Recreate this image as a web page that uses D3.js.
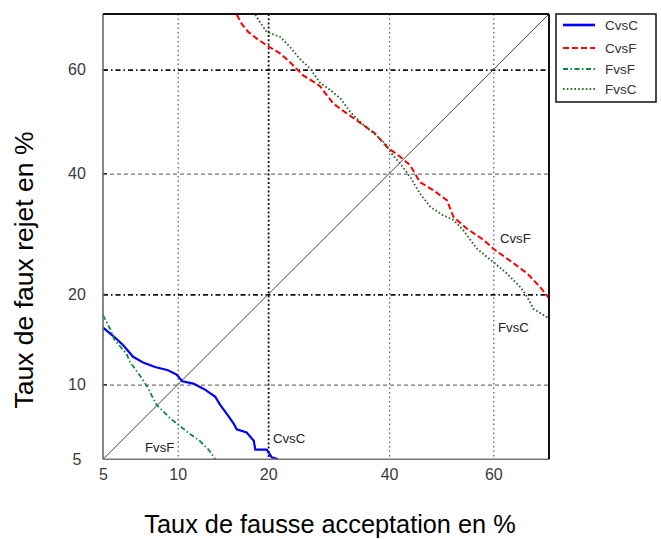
<!DOCTYPE html>
<html>
<head>
<meta charset="utf-8">
<script src="https://cdn.jsdelivr.net/npm/d3@7"></script>
<style>
  html, body { margin: 0; padding: 0; background: #fff; }
  svg { display: block; font-family: "Liberation Sans", Arial, Helvetica, sans-serif; }
</style>
</head>
<body>
<svg id="chart" width="661" height="539"></svg>
<script>
// Taux d'erreur en % (fausse acceptation / faux rejet)
const tickValues = [5, 10, 20, 40, 60];
const axisDomain = [5, 70];

const cvscFA = [5.0, 5.6, 6.1, 6.7, 7.4, 8.2, 9.2, 9.9, 10.4, 11.4, 12.5, 13.6, 14.1, 14.9, 15.6, 16.0, 17.2, 18.1, 18.3, 19.8, 20.5, 21.4];
const cvscFR = [15.8, 14.7, 13.8, 12.6, 12.0, 11.6, 11.3, 10.9, 10.3, 10.1, 9.6, 9.0, 8.4, 7.7, 7.1, 6.7, 6.5, 6.0, 5.5, 5.5, 5.1, 5.0];

const cvsfFA = [16.0, 16.6, 17.4, 18.5, 19.8, 21.7, 23.1, 25.1, 27.3, 27.8, 30.0, 32.3, 35.3, 37.4, 39.6, 42.1, 44.0, 45.9, 48.5, 51.1, 52.4, 55.0, 58.2, 60.0, 63.8, 66.2, 68.5, 70.0];
const cvsfFR = [69.9, 68.3, 66.9, 65.7, 64.5, 63.0, 61.4, 58.9, 57.3, 56.8, 53.5, 51.6, 49.3, 47.7, 45.1, 43.2, 41.6, 38.4, 36.9, 35.1, 32.1, 30.1, 28.2, 26.8, 24.5, 23.0, 21.0, 19.5];

const fvsfFA = [5.0, 5.4, 5.6, 6.3, 6.5, 7.2, 7.7, 8.3, 9.4, 10.2, 11.1, 12.0, 12.9, 13.6];
const fvsfFR = [17.3, 15.5, 14.4, 12.9, 12.1, 10.7, 9.7, 8.4, 7.4, 6.9, 6.4, 6.0, 5.5, 5.0];

const fvscFA = [18.3, 18.9, 19.8, 21.7, 23.1, 24.6, 26.2, 27.8, 29.5, 31.2, 32.9, 35.3, 37.7, 39.3, 40.5, 42.1, 44.0, 45.9, 47.9, 50.4, 52.4, 54.3, 56.9, 60.0, 62.5, 65.0, 66.2, 67.3, 70.0];
const fvscFR = [69.9, 68.6, 66.9, 66.0, 64.2, 62.0, 60.2, 57.5, 56.1, 54.5, 51.9, 49.3, 47.3, 45.7, 43.8, 41.9, 39.4, 36.3, 33.9, 32.4, 31.6, 29.8, 26.8, 24.7, 23.0, 21.0, 19.7, 18.1, 16.9];

const seriesNames = ["CvsC", "CvsF", "FvsF", "FvsC"];

// Inverse of the standard normal CDF (Acklam's rational approximation)
function probit(p) {
  const a = [-3.969683028665376e+01, 2.209460984245205e+02, -2.759285104469687e+02, 1.383577518672690e+02, -3.066479806614716e+01, 2.506628277459239e+00];
  const b = [-5.447609879822406e+01, 1.615858368580409e+02, -1.556989798598866e+02, 6.680131188771972e+01, -1.328068155288572e+01];
  const c = [-7.784894002430293e-03, -3.223964580411365e-01, -2.400758277161838e+00, -2.549732539343734e+00, 4.374664141464968e+00, 2.938163982698783e+00];
  const d = [7.784695709041462e-03, 3.224671290700398e-01, 2.445134137142996e+00, 3.754408661907416e+00];
  const pl = 0.02425;
  if (p < pl) {
    const q = Math.sqrt(-2 * Math.log(p));
    return (((((c[0]*q+c[1])*q+c[2])*q+c[3])*q+c[4])*q+c[5]) / ((((d[0]*q+d[1])*q+d[2])*q+d[3])*q+1);
  }
  if (p <= 1 - pl) {
    const q = p - 0.5, r = q * q;
    return (((((a[0]*r+a[1])*r+a[2])*r+a[3])*r+a[4])*r+a[5])*q / (((((b[0]*r+b[1])*r+b[2])*r+b[3])*r+b[4])*r+1);
  }
  const q = Math.sqrt(-2 * Math.log(1 - p));
  return -(((((c[0]*q+c[1])*q+c[2])*q+c[3])*q+c[4])*q+c[5]) / ((((d[0]*q+d[1])*q+d[2])*q+d[3])*q+1);
}
const pz = v => probit(v / 100);

const plot = { left: 103, top: 14, right: 549, bottom: 459.3 };
const W = plot.right - plot.left, H = plot.bottom - plot.top;

const svg = d3.select("#chart");
const g = svg.append("g").attr("transform", `translate(${plot.left},${plot.top})`);

// Normal-deviate (probit) scales
const xs = d3.scaleLinear().domain(axisDomain.map(pz)).range([0, W]);
const ys = d3.scaleLinear().domain(axisDomain.map(pz)).range([H, 0]);
const X = v => xs(pz(v));
const Y = v => ys(pz(v));

g.append("rect").attr("width", W).attr("height", H).attr("fill", "#fff");

// Grid
const vStyle = { 10: ["#666", 1.3, "1.5,3"], 20: ["#111", 1.8, "2,2.2"], 40: ["#666", 1.3, "1.5,3"], 60: ["#666", 1.3, "1.5,3"] };
const hStyle = { 10: ["#777", 1.2, "4,3"], 20: ["#111", 1.6, "5,3,1.5,3"], 40: ["#777", 1.2, "4,3"], 60: ["#111", 1.6, "5,3,1.5,3"] };

const gridV = g.append("g").call(
  d3.axisBottom(xs).tickValues(tickValues.slice(1).map(pz)).tickSize(H).tickFormat("")
);
gridV.select(".domain").remove();
gridV.selectAll(".tick line").each(function(d, i) {
  const s = vStyle[tickValues[i + 1]];
  d3.select(this).attr("stroke", s[0]).attr("stroke-width", s[1]).attr("stroke-dasharray", s[2]);
});

const gridH = g.append("g").call(
  d3.axisLeft(ys).tickValues(tickValues.slice(1).map(pz)).tickSize(-W).tickFormat("")
);
gridH.select(".domain").remove();
gridH.selectAll(".tick line").each(function(d, i) {
  const s = hStyle[tickValues[i + 1]];
  d3.select(this).attr("stroke", s[0]).attr("stroke-width", s[1]).attr("stroke-dasharray", s[2]);
});

// Equal-error diagonal
g.append("line")
  .attr("x1", X(axisDomain[0])).attr("y1", Y(axisDomain[0]))
  .attr("x2", X(axisDomain[1])).attr("y2", Y(axisDomain[1]))
  .attr("stroke", "#444").attr("stroke-width", 1);

// Curves
g.append("clipPath").attr("id", "clip").append("rect").attr("width", W).attr("height", H);
const line = d3.line().x(d => X(d[0])).y(d => Y(d[1]));
const zip = (a, b) => a.map((v, i) => [v, b[i]]);

const series = [
  { name: seriesNames[0], data: zip(cvscFA, cvscFR), color: "#0000ff", width: 2.2, dash: null },
  { name: seriesNames[1], data: zip(cvsfFA, cvsfFR), color: "#ff0000", width: 2, dash: "6,3" },
  { name: seriesNames[2], data: zip(fvsfFA, fvsfFR), color: "#0b8a3a", width: 1.8, dash: "5,2.5,1.5,2.5" },
  { name: seriesNames[3], data: zip(fvscFA, fvscFR), color: "#2a6a2a", width: 1.9, dash: "1.6,2.2" }
];

const curves = g.append("g").attr("clip-path", "url(#clip)");
series.forEach(s => {
  curves.append("path").datum(s.data)
    .attr("d", line)
    .attr("fill", "none")
    .attr("stroke", s.color)
    .attr("stroke-width", s.width)
    .attr("stroke-dasharray", s.dash);
});

// Curve annotations
const notes = [
  { text: "CvsC", x: 273, y: 443 },
  { text: "FvsF", x: 145, y: 452 },
  { text: "CvsF", x: 500, y: 243 },
  { text: "FvsC", x: 498, y: 332 }
];
svg.append("g").selectAll("text").data(notes).join("text")
  .attr("x", d => d.x).attr("y", d => d.y)
  .attr("font-size", 13.2).attr("fill", "#222")
  .text(d => d.text);

// Axes
const xAxis = g.append("g").attr("transform", `translate(0,${H})`)
  .call(d3.axisBottom(xs).tickValues(tickValues.map(pz)).tickSize(0).tickFormat((d, i) => tickValues[i]));
xAxis.select(".domain").remove();
xAxis.selectAll("text").attr("y", 9).attr("font-size", 16).attr("fill", "#3a3a3a")
  .attr("font-family", "'Liberation Sans', Arial, sans-serif");

const yAxis = g.append("g")
  .call(d3.axisLeft(ys).tickValues(tickValues.map(pz)).tickSize(0).tickFormat((d, i) => tickValues[i]));
yAxis.select(".domain").remove();
yAxis.selectAll("text").attr("x", 77 - plot.left).attr("text-anchor", "middle")
  .attr("font-size", 16).attr("fill", "#3a3a3a")
  .attr("font-family", "'Liberation Sans', Arial, sans-serif");

// Small inward tick marks on the left axis
g.append("g").selectAll("line").data(tickValues.slice(1)).join("line")
  .attr("x1", 0).attr("x2", 4).attr("y1", d => Y(d)).attr("y2", d => Y(d))
  .attr("stroke", "#222").attr("stroke-width", 1.2);

// Frame
g.append("line").attr("x1", 0).attr("y1", 0).attr("x2", 0).attr("y2", H).attr("stroke", "#666").attr("stroke-width", 1.6);
g.append("line").attr("x1", 0).attr("y1", H).attr("x2", W).attr("y2", H).attr("stroke", "#777").attr("stroke-width", 1.4);
g.append("line").attr("x1", 0).attr("y1", 0).attr("x2", W).attr("y2", 0).attr("stroke", "#111").attr("stroke-width", 2);
g.append("line").attr("x1", W).attr("y1", 0).attr("x2", W).attr("y2", H).attr("stroke", "#111").attr("stroke-width", 2);

// Axis titles
svg.append("text")
  .attr("x", 330).attr("y", 533)
  .attr("text-anchor", "middle").attr("font-size", 25.3).attr("fill", "#000")
  .text("Taux de fausse acceptation en %");
svg.append("text")
  .attr("transform", "translate(33,270) rotate(-90)")
  .attr("text-anchor", "middle").attr("font-size", 26.5).attr("fill", "#000")
  .text("Taux de faux rejet en %");

// Legend
const legend = svg.append("g");
legend.append("rect").attr("x", 556).attr("y", 14).attr("width", 100).attr("height", 88)
  .attr("fill", "#fff").attr("stroke", "#111").attr("stroke-width", 1.5);
const rowY = [25, 48, 69, 89];
series.forEach((s, i) => {
  legend.append("line").attr("x1", 563).attr("x2", 595).attr("y1", rowY[i]).attr("y2", rowY[i])
    .attr("stroke", s.color).attr("stroke-width", i === 0 ? 2.6 : 2.2).attr("stroke-dasharray", s.dash);
  legend.append("text").attr("x", 605).attr("y", rowY[i] + 5)
    .attr("font-size", 13.5).attr("fill", "#333").text(s.name);
});
</script>
</body>
</html>
